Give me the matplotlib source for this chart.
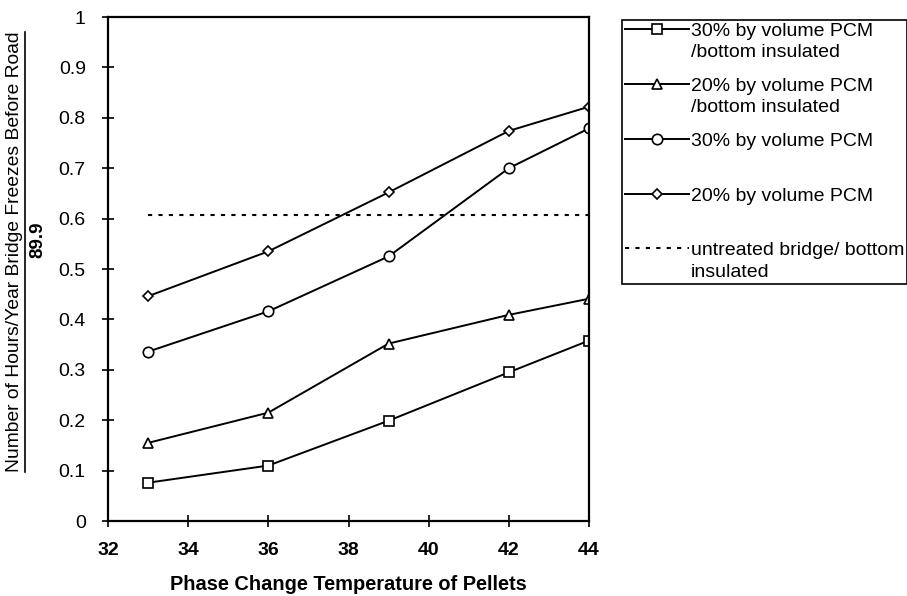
import matplotlib
matplotlib.use("Agg")
import matplotlib.pyplot as plt
from matplotlib.legend_handler import HandlerLine2D
from matplotlib.lines import Line2D

plt.rcParams["font.family"] = ["Liberation Sans", "DejaVu Sans"]

# phase change temperature of pellets
temps = [33, 36, 39, 42, 44]

pcm30_insulated = [0.076, 0.110, 0.199, 0.295, 0.358]
pcm20_insulated = [0.155, 0.215, 0.352, 0.409, 0.441]
pcm30 = [0.336, 0.416, 0.525, 0.700, 0.779]
pcm20 = [0.446, 0.535, 0.652, 0.774, 0.822]
untreated_insulated = 0.608

labels = [
    "30% by volume PCM\n/bottom insulated",
    "20% by volume PCM\n/bottom insulated",
    "30% by volume PCM\n ",
    "20% by volume PCM\n ",
    "untreated bridge/ bottom\ninsulated",
]

LINESPACING = 1.32


class FirstLineHandler(HandlerLine2D):
    # put the legend sample next to the first line of a two-line label
    def create_artists(self, legend, orig_handle, xdescent, ydescent,
                       width, height, fontsize, trans):
        artists = super().create_artists(legend, orig_handle, xdescent, ydescent,
                                         width, height, fontsize, trans)
        for a in artists:
            a.set_ydata([y + 0.5 * LINESPACING * fontsize for y in a.get_ydata()])
        return artists


fig = plt.figure(figsize=(9.07, 5.96), dpi=100)
ax = fig.add_axes([108 / 907, 1 - 521 / 596, (589 - 108) / 907, (521 - 17) / 596])

line_kw = dict(color="black", linewidth=1.4, markerfacecolor="white",
               markeredgecolor="black", markeredgewidth=1.2)
h1, = ax.plot(temps, pcm30_insulated, marker="s", markersize=7, **line_kw)
h2, = ax.plot(temps, pcm20_insulated, marker="^", markersize=7.5, **line_kw)
h3, = ax.plot(temps, pcm30, marker="o", markersize=7.5, **line_kw)
h4, = ax.plot(temps, pcm20, marker="D", markersize=5.5, **line_kw)
h5, = ax.plot([temps[0], temps[-1]], [untreated_insulated] * 2, color="black",
              linewidth=1.5, linestyle=(0, (2, 3)))

ax.set_xlim(32, 44)
ax.set_ylim(0, 1)
ax.set_xticks(range(32, 45, 2))
ax.set_yticks([i / 10 for i in range(11)])
ax.set_yticklabels(["0"] + [f"{i / 10:.1f}" for i in range(1, 10)] + ["1"])
ax.tick_params(axis="both", direction="inout", length=8, width=1.2)
ax.tick_params(axis="x", labelsize=14, pad=11)
ax.tick_params(axis="y", labelsize=14, pad=12)
for t in ax.get_xticklabels():
    t.set_fontweight("bold")
for s in ax.spines.values():
    s.set_linewidth(1.6)

ax.set_xlabel("Phase Change Temperature of Pellets", fontsize=14.4,
              fontweight="bold", labelpad=12)

ylab = fig.text(15 / 907, 1 - 252 / 596,
                "Number of Hours/Year Bridge Freezes Before Road",
                rotation=90, ha="center", va="center", fontsize=13.9)
fig.text(38 / 907, 1 - 240 / 596, "89.9", rotation=90, ha="center",
         va="center", fontsize=13.5, fontweight="bold")

handler = FirstLineHandler()
leg = fig.legend([h1, h2, h3, h4, h5], labels, loc="upper left",
                 bbox_to_anchor=(622 / 907, 1 - 20 / 596),
                 bbox_transform=fig.transFigure, fontsize=14,
                 frameon=True, fancybox=False, framealpha=1,
                 edgecolor="black", handlelength=3.3, handletextpad=0.1,
                 borderpad=0.15, labelspacing=0.86, borderaxespad=0,
                 handler_map={Line2D: handler})
leg.get_frame().set_linewidth(1.2)
for t in leg.get_texts():
    t.set_linespacing(LINESPACING)

# underline the numerator of the y label (drawn as a fraction)
fig.canvas.draw()
bb = ylab.get_window_extent(fig.canvas.get_renderer())
inv = fig.transFigure.inverted()
(x0, y0), (x1, y1) = inv.transform([[bb.x0, bb.y0], [bb.x1, bb.y1]])
fig.add_artist(Line2D([x1 + 1.5 / 907, x1 + 1.5 / 907], [y0, y1],
                      transform=fig.transFigure, color="black", linewidth=1.2))

fig.savefig("out.png", dpi=100)
